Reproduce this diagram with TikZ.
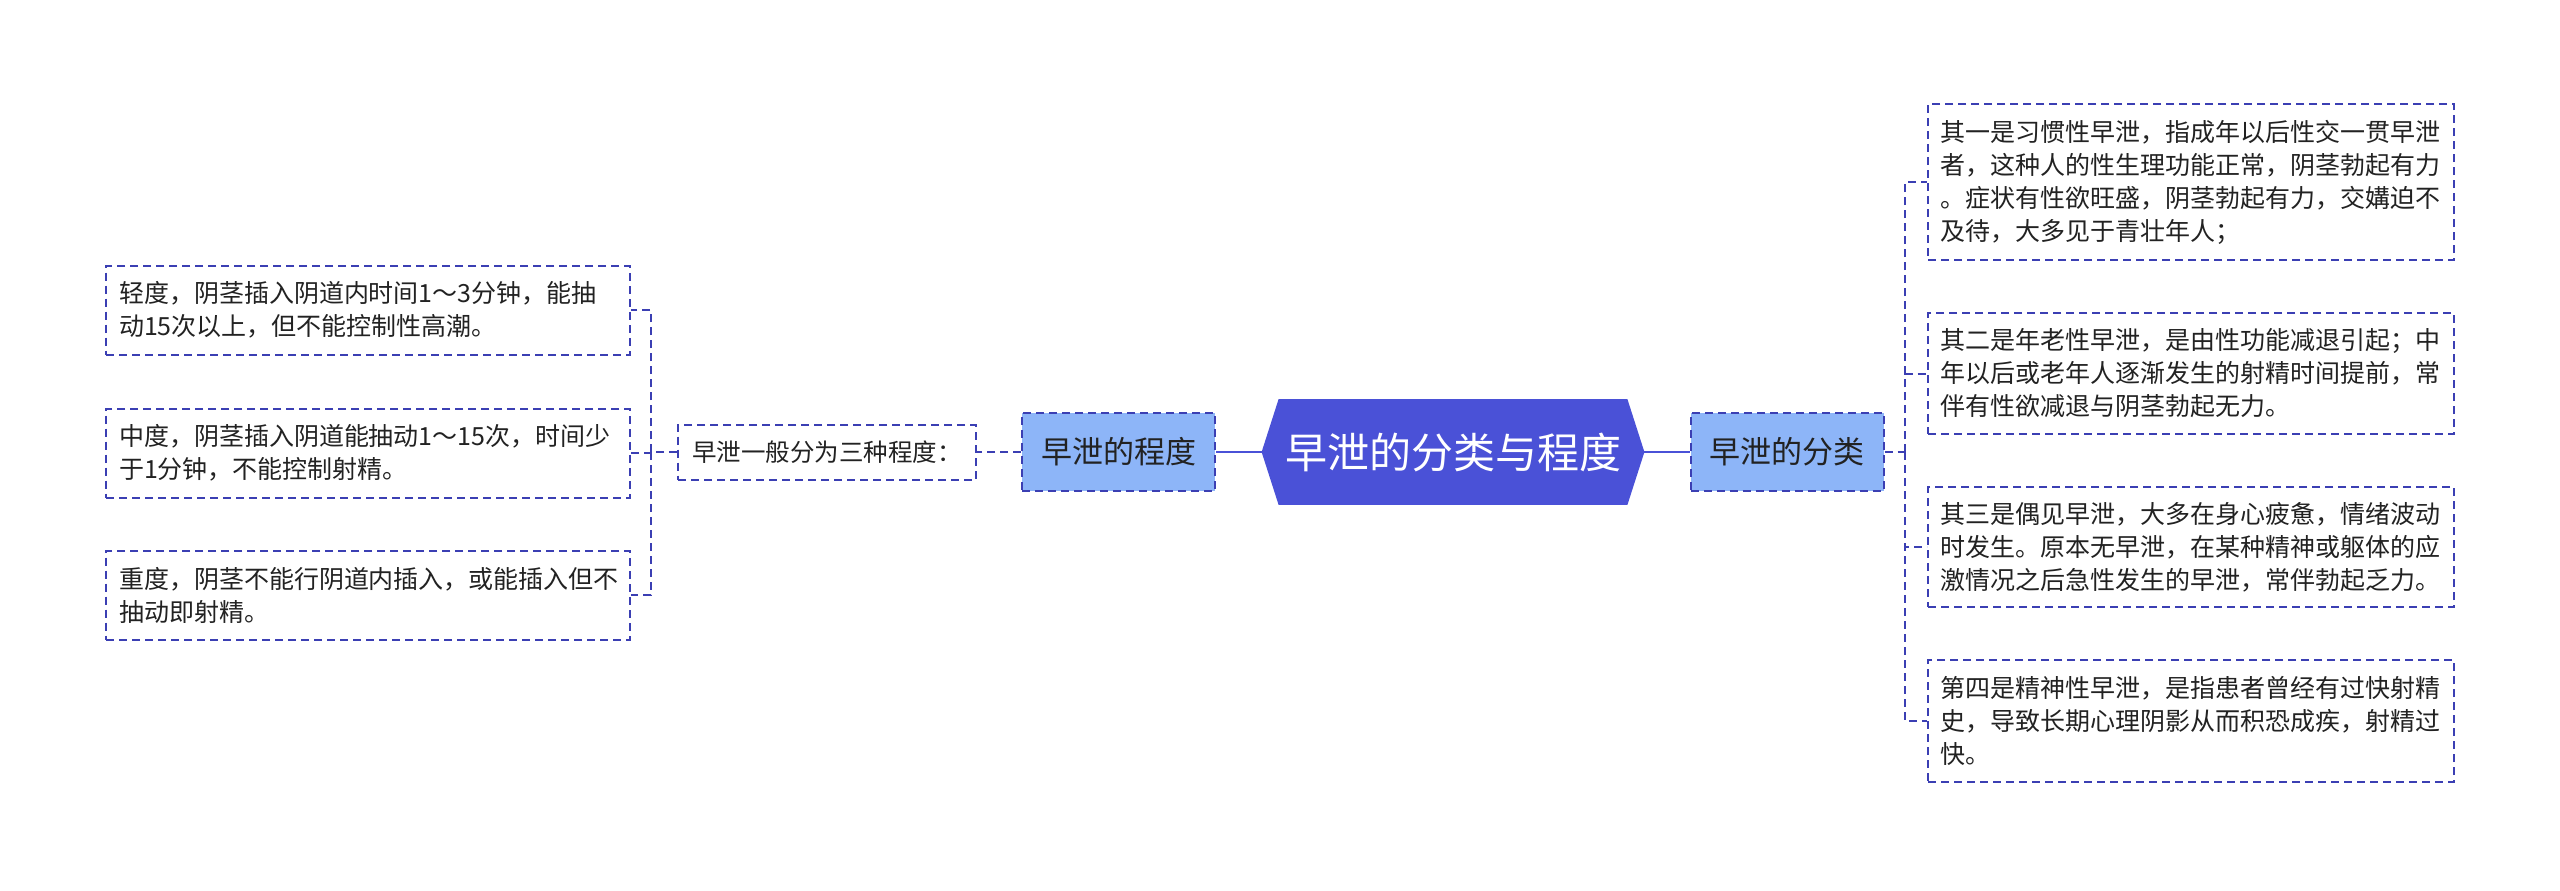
\documentclass[tikz,border=0pt]{standalone}
\usepackage{fontspec}
\setmainfont{Noto Sans CJK SC}
\usetikzlibrary{backgrounds}
\definecolor{dashc}{HTML}{3B3FB3}
\definecolor{lightb}{HTML}{8DB5F8}
\definecolor{mainb}{HTML}{4A51D7}
\definecolor{txt}{HTML}{222222}
\begin{document}
\begin{tikzpicture}[x=0.5pt,y=-0.5pt,
  dsh/.style={draw=dashc,line width=1pt,dash pattern=on 4pt off 2.5pt},
  lbox/.style={dsh,fill=white,text=txt,text width=249pt,inner xsep=6.5pt,inner ysep=0pt,align=left,
    font=\fontsize{12.5pt}{16.5pt}\selectfont,minimum height=44.5pt},
  rbox/.style={dsh,fill=white,text=txt,text width=251pt,inner xsep=6pt,inner ysep=0pt,align=left,
    font=\fontsize{12.5pt}{16.5pt}\selectfont},
  midbox/.style={dsh,fill=white,text=txt,minimum width=149pt,minimum height=27.5pt,inner sep=0pt,
    font=\fontsize{12.25pt}{15pt}\selectfont},
  subbox/.style={dsh,fill=lightb,text=txt,minimum width=96.5pt,minimum height=39pt,inner sep=0pt,
    font=\fontsize{15.5pt}{18pt}\selectfont},
  conn/.style={draw=dashc,line width=1pt,dash pattern=on 4pt off 2.5pt},
  solidconn/.style={draw=mainb,line width=1.25pt}]
\useasboundingbox (0,0) rectangle (2560,890);

% center
\node[text=white,minimum width=191pt,minimum height=52.5pt,inner sep=0pt,
  font=\fontsize{21pt}{24pt}\selectfont] (c) at (1453,452) {早泄的分类与程度};
\begin{scope}[on background layer]
\fill[white] (0,0) rectangle (2560,890);
\fill[mainb] (c.west) -- ([xshift=8.5pt]c.north west) -- ([xshift=-8.5pt]c.north east)
  -- (c.east) -- ([xshift=-8.5pt]c.south east) -- ([xshift=8.5pt]c.south west) -- cycle;
\end{scope}

% left side
\node[subbox] (cd) at (1118.5,452) {早泄的程度};
\node[midbox] (mid) at (827,452) {早泄一般分为三种程度：};
\node[lbox] (L1) at (368,310) {轻度，阴茎插入阴道内时间1～3分钟，能抽\\动15次以上，但不能控制性高潮。};
\node[lbox] (L2) at (368,453) {中度，阴茎插入阴道能抽动1～15次，时间少\\于1分钟，不能控制射精。};
\node[lbox] (L3) at (368,595) {重度，阴茎不能行阴道内插入，或能插入但不\\抽动即射精。};

% right side
\node[subbox] (fl) at (1787,452) {早泄的分类};
\node[rbox,minimum height=78pt] (R1) at (2191,182) {其一是习惯性早泄，指成年以后性交一贯早泄\\者，这种人的性生理功能正常，阴茎勃起有力\\。症状有性欲旺盛，阴茎勃起有力，交媾迫不\\及待，大多见于青壮年人；};
\node[rbox,minimum height=60.5pt] (R2) at (2191,373.5) {其二是年老性早泄，是由性功能减退引起；中\\年以后或老年人逐渐发生的射精时间提前，常\\伴有性欲减退与阴茎勃起无力。};
\node[rbox,minimum height=60pt] (R3) at (2191,547) {其三是偶见早泄，大多在身心疲惫，情绪波动\\时发生。原本无早泄，在某种精神或躯体的应\\激情况之后急性发生的早泄，常伴勃起乏力。};
\node[rbox,minimum height=61pt] (R4) at (2191,721) {第四是精神性早泄，是指患者曾经有过快射精\\史，导致长期心理阴影从而积恐成疾，射精过\\快。};

% connectors
\draw[solidconn] (c.west) -- (cd.east);
\draw[solidconn] (c.east) -- (fl.west);
\draw[conn] (cd.west) -- (mid.east);
\coordinate (lb) at (651,452);
\draw[conn] (mid.west) -- (lb);
\draw[conn] (lb) |- (L1.east);
\draw[conn] (lb) |- (L2.east);
\draw[conn] (lb) |- (L3.east);
\coordinate (rb) at (1905,452);
\draw[conn] (fl.east) -- (rb);
\draw[conn] (rb) |- (R1.west);
\draw[conn] (rb) |- (R2.west);
\draw[conn] (rb) |- (R3.west);
\draw[conn] (rb) |- (R4.west);
\end{tikzpicture}
\end{document}
